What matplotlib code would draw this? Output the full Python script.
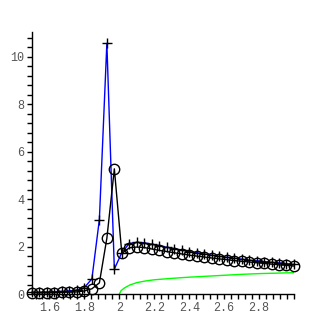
import numpy as np
import matplotlib
matplotlib.use('Agg')
import matplotlib.pyplot as plt
from matplotlib.ticker import MultipleLocator

# sample points (36 evenly spaced from 1.5 to 3.0)
x = np.linspace(1.5, 3.0, 36)

cross_y = [0.08, 0.08, 0.09, 0.10, 0.11, 0.13, 0.17, 0.27, 0.64, 3.14, 10.57, 1.05,
           1.75, 2.13, 2.18, 2.16, 2.10, 2.04, 1.97, 1.91, 1.85, 1.79, 1.74, 1.69,
           1.64, 1.59, 1.55, 1.51, 1.47, 1.43, 1.40, 1.37, 1.34, 1.31, 1.28, 1.25]

circle_y = [0.05, 0.05, 0.05, 0.06, 0.07, 0.08, 0.09, 0.13, 0.22, 0.47, 2.35, 5.28,
            1.71, 1.95, 1.98, 1.96, 1.90, 1.84, 1.79, 1.74, 1.69, 1.64, 1.60, 1.56,
            1.52, 1.48, 1.45, 1.41, 1.38, 1.35, 1.32, 1.29, 1.26, 1.23, 1.21, 1.18]

green_x = [2.0, 2.01, 2.03, 2.06, 2.1, 2.15, 2.2, 2.3, 2.4, 2.5, 2.6, 2.7, 2.8, 2.9, 3.0]
green_y = [0.0, 0.14, 0.26, 0.38, 0.48, 0.55, 0.60, 0.66, 0.71, 0.75, 0.79, 0.83, 0.86, 0.88, 0.90]

fig = plt.figure(figsize=(3.27, 3.27), dpi=100)
ax = fig.add_axes([0.0979, 0.1009, 0.8011, 0.8011])

ax.plot(green_x, green_y, color='#00ff00', lw=1.0)
ax.plot(x, cross_y, color='#0000ff', lw=1.0, clip_on=False)
ax.plot(x, cross_y, ls='none', marker='+', ms=7, mew=1.0, color='black', clip_on=False)
ax.plot(x, circle_y, color='black', lw=1.0, marker='o', ms=7.5, mfc='none',
        mec='black', mew=1.0, clip_on=False)

ax.set_xlim(1.5, 3.0)
ax.set_ylim(0, 11.05)

for s in ['top', 'right']:
    ax.spines[s].set_visible(False)
for s in ['left', 'bottom']:
    ax.spines[s].set_linewidth(1.0)

ax.xaxis.set_major_locator(MultipleLocator(0.2))
ax.xaxis.set_minor_locator(MultipleLocator(0.04))
ax.yaxis.set_major_locator(MultipleLocator(2))
ax.yaxis.set_minor_locator(MultipleLocator(0.4))
ax.set_xticks([1.6, 1.8, 2.0, 2.2, 2.4, 2.6, 2.8])
ax.set_xticklabels(['1.6', '1.8', '2', '2.2', '2.4', '2.6', '2.8'])
ax.set_yticks([0, 2, 4, 6, 8, 10])
ax.set_yticklabels(['0', '2', '4', '6', '8', '10'])

ax.tick_params(which='both', direction='out', length=3.5, width=1.0, color='black')
ax.tick_params(which='major', labelsize=8.5, labelcolor='#555555', pad=2)
for lab in ax.get_xticklabels() + ax.get_yticklabels():
    lab.set_family('Liberation Mono')

fig.savefig('out.png', dpi=100)
